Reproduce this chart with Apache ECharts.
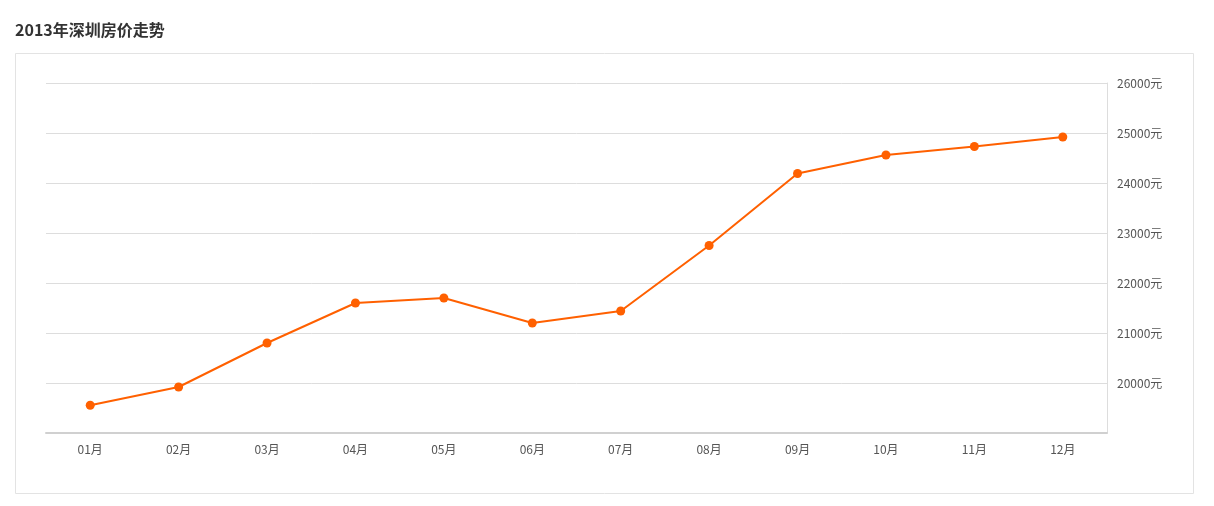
<!DOCTYPE html>
<html><head><meta charset="utf-8">
<script src="https://cdn.jsdelivr.net/npm/echarts@6/dist/echarts.min.js"></script>
<style>html,body{margin:0;padding:0;background:#fff}#c{width:1214px;height:506px}</style>
</head><body><div id="c"></div>
<script>
var titleText = '2013年深圳房价走势';
var months = ['01月','02月','03月','04月','05月','06月','07月','08月','09月','10月','11月','12月'];
var prices = [19555, 19920, 20800, 21600, 21700, 21200, 21440, 22750, 24190, 24560, 24730, 24920];
var yMin = 19000, yMax = 26000, yStep = 1000, unit = '元';

var chart = echarts.init(document.getElementById('c'), null, {renderer:'canvas'});
chart.setOption({
  animation:false,
  backgroundColor:'#fff',
  title:{text:titleText,left:10,top:17,textStyle:{fontSize:16,fontWeight:'bold',color:'#333',fontFamily:'"Noto Sans CJK SC", sans-serif'}},
  graphic:[{type:'rect',shape:{x:15.5,y:53.5,width:1178,height:440},style:{fill:'none',stroke:'#e3e3e3',lineWidth:1},z:-1}],
  grid:{left:46,right:107,top:83,bottom:73},
  xAxis:{type:'category',data:months,boundaryGap:true,
    axisLine:{lineStyle:{color:'#d0d0d0',width:2}},
    axisTick:{alignWithLabel:true,length:4,lineStyle:{color:'#ddd'}},
    axisLabel:{color:'#555',fontSize:12,margin:10,fontFamily:'"Noto Sans CJK SC", sans-serif'}},
  yAxis:{type:'value',position:'right',min:yMin,max:yMax,interval:yStep,
    axisLine:{show:true,lineStyle:{color:'#ddd'}},
    axisTick:{show:false},
    splitLine:{lineStyle:{color:'#ddd'}},
    axisLabel:{showMinLabel:false,color:'#555',fontSize:12,margin:10,fontFamily:'"Noto Sans CJK SC", sans-serif',formatter:function(v){return v+unit;}}},
  series:[{type:'line',data:prices,symbol:'circle',symbolSize:9,
    lineStyle:{color:'#ff6000',width:2},itemStyle:{color:'#ff6000'}}]
});
</script></body></html>
